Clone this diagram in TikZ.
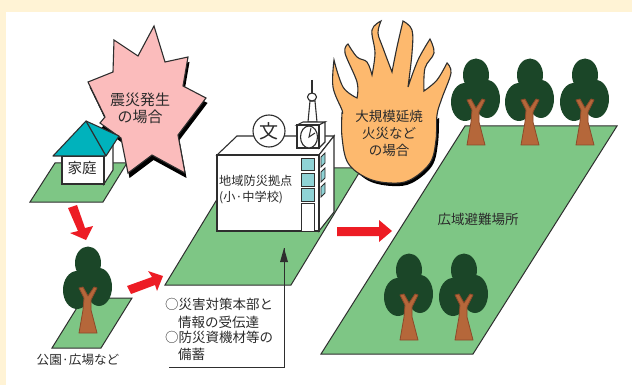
\documentclass[tikz,border=0pt]{standalone}
\usepackage{fontspec}
\setmainfont{Noto Sans CJK JP}
\definecolor{creamc}{HTML}{FFF3D5}
\definecolor{groundc}{HTML}{7EC685}
\definecolor{edgec}{HTML}{2E2E2E}
\definecolor{pinkc}{HTML}{FBBCBC}
\definecolor{tealc}{HTML}{00B2BC}
\definecolor{flamec}{HTML}{FDB96E}
\definecolor{winc}{HTML}{8FD3D6}
\definecolor{redc}{HTML}{ED1C24}
\definecolor{crownc}{HTML}{1B4628}
\definecolor{trunkc}{HTML}{B5673A}
\definecolor{trunkedge}{HTML}{8B4A2A}
\definecolor{textc}{HTML}{2B2B2B}
\newcommand{\starshape}{(154,26) -- (165,62) -- (188,57) -- (183,86) -- (206,98) -- (178,135) -- (185,173) -- (152,155) -- (128,173) -- (121,138) -- (100,123) -- (105,117) -- (88,82) -- (113,72) -- (114,40) -- (138,56) -- cycle}
\newcommand{\flameshape}{plot[smooth,tension=.6] coordinates {(342,113) (342,110) (333,87) (334,60)}
 -- plot[smooth,tension=.6] coordinates {(334,60) (343,87) (357,98)}
 -- plot[smooth,tension=.6] coordinates {(357,98) (357,82) (345,53) (348,44)}
 -- plot[smooth,tension=.6] coordinates {(348,44) (357,57) (367,62) (372,75)}
 -- plot[smooth,tension=.6] coordinates {(372,75) (375,53) (372,30) (381,21)}
 -- plot[smooth,tension=.6] coordinates {(381,21) (378,33) (383,48) (392,72)}
 -- plot[smooth,tension=.6] coordinates {(392,72) (397,47) (403,21)}
 -- plot[smooth,tension=.6] coordinates {(403,21) (412,30) (412,53) (408,87)}
 -- plot[smooth,tension=.6] coordinates {(408,87) (418,60) (430,39)}
 -- plot[smooth,tension=.6] coordinates {(430,39) (434,53) (425,68) (424,91)}
 -- plot[smooth,tension=.6] coordinates {(424,91) (437,80) (447,63)}
 -- plot[smooth,tension=.6] coordinates {(447,63) (451,73) (442,98) (437,115) (436,140) (430,163) (410,180) (390,183) (367,178) (348,163) (342,137) (342,113)} -- cycle}
\tikzset{
  x=1pt,y=-1pt,
  ground/.style={fill=groundc,draw=edgec,line width=1pt,line join=miter},
  outline/.style={draw=edgec,line width=1.1pt,line join=miter},
  wall/.style={fill=white,draw=edgec,line width=1.1pt},
  redarrow/.style={fill=redc,draw=none},
  win/.style={fill=winc,draw=edgec,line width=.8pt},
  lbl/.style={inner sep=0pt,text=textc,font=\fontsize{13.5}{16}\selectfont},
  lblleft/.style={lbl,anchor=west},
  tree/.pic={
    \fill[crownc] (0,-70) ellipse[x radius=13,y radius=16.5];
    \fill[crownc] (-11,-43) ellipse[x radius=14,y radius=19];
    \fill[crownc] (11,-46) ellipse[x radius=13,y radius=19];
    \filldraw[fill=trunkc,draw=trunkedge,line width=.8pt,line join=round]
      (-9,0) -- (-5,-23) -- (-4,-35) -- (-9,-45) -- (-5,-46) -- (0,-37) -- (6,-46) -- (9,-45) -- (3,-33) -- (3,-23) -- (9,0) -- cycle;
  }
}
\begin{document}
\begin{tikzpicture}
\useasboundingbox (0,0) rectangle (632,385);
\fill[creamc] (0,0) rectangle (632,385);
\fill[white] (6,12) rectangle (632,385);
% home ground
\path[ground] (30,202) -- (103,202) -- (127,163) -- (55,163) -- cycle;
% star
\fill[black,shift={(1.5,5)}] \starshape;
\path[fill=pinkc,outline] \starshape;
\node[lbl,font=\fontsize{15}{18}\selectfont] (shin1) at (140,100) {震災発生};
\node[lbl,font=\fontsize{15}{18}\selectfont] (shin2) at (140,117) {の場合};
% house
\path[wall] (104,156) -- (104,184) -- (113,170) -- (113,140) -- cycle;
\path[wall] (62,156) rectangle (104,184);
\path[fill=tealc,outline,line join=round] (86,121) -- (53,156) -- (106,156) -- (119,136) -- cycle;
\draw[edgec,line width=1.2pt] (86,121) -- (106,156);
\node[lbl,font=\fontsize{14.5}{17}\selectfont] (home) at (82,168) {家庭};
% arrow home to park
\path[redarrow] (68,208) -- (77,205) -- (85,228) -- (93,226) -- (86,240) -- (70,233) -- (78,231) -- cycle;
% park
\path[ground] (52,348) -- (101,348) -- (132,298) -- (83,298) -- cycle;
\pic at (88,333) {tree};
\node[lbl,font=\fontsize{12.6}{14}\selectfont] (park) at (78,360) {公園·広場など};
% arrow park to school
\path[redarrow] (127,286) -- (152,277) -- (148,271) -- (163,276) -- (157,291) -- (155,285) -- (131,294) -- cycle;
% school ground
\path[ground] (165,285) -- (291,285) -- (362,168) -- (236,168) -- cycle;
% flame
\fill[black,shift={(2,3)}] plot[smooth,tension=.6] coordinates {(437,115) (436,140) (430,163) (410,180) (390,183) (367,178) (348,163)} -- cycle;
\path[fill=flamec,outline] \flameshape;
\node[lbl] (fire1) at (389,116) {大規模延焼};
\node[lbl] (fire2) at (389,133) {火災など};
\node[lbl] (fire3) at (389,150) {の場合};
% building
\path[wall] (217,155) -- (237,136) -- (334,136) -- (319,155) -- cycle;
\path[wall] (319,155) -- (334,136) -- (334,212) -- (319,231) -- cycle;
\path[wall] (217,155) rectangle (319,231);
\path[win] (301,158) rectangle (314,170);
\path[win] (301,173) rectangle (314,186);
\path[win] (301,188) rectangle (314,201);
\path[wall,line width=.8pt] (301,203) rectangle (314,231);
\path[win] (321,157) -- (325,153) -- (325,163) -- (321,167) -- cycle;
\path[win] (321,172) -- (325,168) -- (325,178) -- (321,182) -- cycle;
\path[win] (321,187) -- (325,183) -- (325,193) -- (321,197) -- cycle;
% school sign
\node[circle,draw=edgec,fill=white,line width=1.1pt,minimum size=32pt,inner sep=0pt,text=textc,font=\fontsize{19}{20}\selectfont] (bun) at (269,131) {文};
% tower
\draw[edgec,line width=1.1pt] (312,80) -- (312,93);
\path[wall] (310,101) -- (315,101) -- (317,122) -- (308,122) -- cycle;
\path[wall] (312,97) ellipse[x radius=4.5,y radius=4];
\path[wall] (297,125) -- (303,122) -- (325,122) -- (319,125) -- cycle;
\path[wall] (319,125) -- (325,122) -- (325,142) -- (319,148) -- cycle;
\path[wall] (297,125) rectangle (319,148);
\path[wall] (309,137) ellipse[x radius=8.5,y radius=11];
\draw[edgec,line width=1pt] (311,128) -- (309,137) -- (315,133);
\node[lblleft,font=\fontsize{12.2}{14}\selectfont] (sch1) at (219,181) {地域防災拠点};
\node[lblleft,font=\fontsize{12.2}{14}\selectfont] (sch2) at (219,198) {(小·中学校)};
% arrow school to wide area
\path[redarrow] (337,227) -- (379,227) -- (379,220) -- (392,231) -- (379,242) -- (379,236) -- (337,236) -- cycle;
% wide area
\path[ground] (321,354) -- (473,354) -- (617,126) -- (465,126) -- cycle;
\pic at (476,145) {tree};
\pic at (530,145) {tree};
\pic at (585,145) {tree};
\pic at (409,340) {tree};
\pic at (464,340) {tree};
\node[lbl] (wide) at (478,219) {広域避難場所};
% note text
\node[lblleft] (n1) at (165,304) {○災害対策本部と};
\node[lblleft] (n2) at (178,322) {情報の受伝達};
\node[lblleft] (n3) at (165,337) {○防災資機材等の};
\node[lblleft] (n4) at (178,354) {備蓄};
% pointer
\coordinate (ps) at (169,367);
\coordinate (pc) at (284,367);
\coordinate (pe) at (284,248);
\draw[edgec,line width=1pt] (ps) -- (pc) -- (pe);
\fill[edgec] (pe) -- (288,262) -- (280,262) -- cycle;
\end{tikzpicture}
\end{document}
